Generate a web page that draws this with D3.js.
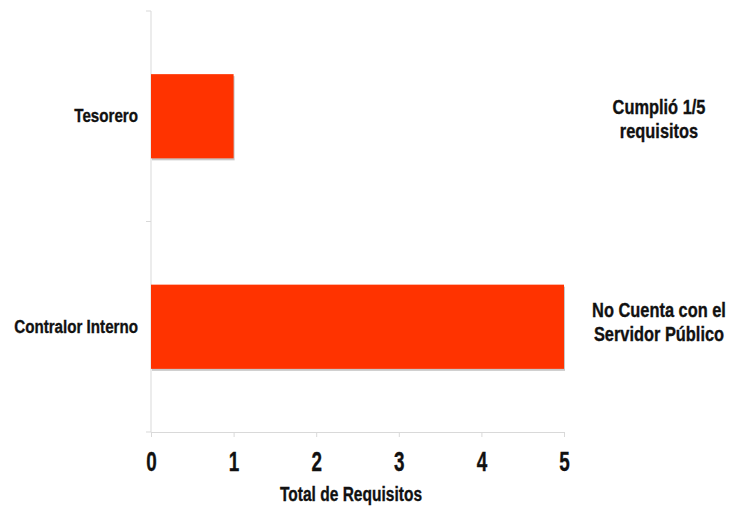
<!DOCTYPE html>
<html>
<head>
<meta charset="utf-8">
<script src="https://cdn.jsdelivr.net/npm/d3@7"></script>
<style>
  body { margin: 0; background: #fff; }
  text { font-family: "Liberation Sans", Arial, sans-serif; font-weight: bold; fill: #111; stroke: #111; stroke-width: 0.35px; }
</style>
</head>
<body>
<svg id="chart" width="734" height="507"></svg>
<script>
const categories = ["Tesorero", "Contralor Interno"];
const values = [1, 5];
const notes = [["Cumplió 1/5", "requisitos"], ["No Cuenta con el", "Servidor Público"]];
const xTicks = [0, 1, 2, 3, 4, 5];

const svg = d3.select("#chart");
const plotLeft = 151, plotRight = 564, plotTop = 11, plotBottom = 432;
const noteDy = [-9, -17]; // first line offset from bar centre
const narrow = 0.82;      // emulate a condensed face

// text with horizontal squeeze
function label(x, y, txt, size, sx, anchor) {
    return svg.append("text")
        .attr("transform", `translate(${x},${y}) scale(${sx},1)`)
        .attr("text-anchor", anchor)
        .attr("dominant-baseline", "central")
        .style("font-size", size + "px")
        .text(txt);
}

const x = d3.scaleLinear().domain([0, 5]).range([plotLeft, plotRight]);
const y = d3.scaleBand().domain(categories).range([plotTop, plotBottom]).padding(0);
const barH = y.bandwidth() * 0.4;

// x axis
const xAxis = svg.append("g")
    .attr("transform", `translate(0, ${plotBottom})`)
    .call(d3.axisBottom(x).tickValues(xTicks).tickSize(5).tickFormat(d3.format("d")));
xAxis.select(".domain").attr("stroke", "#d9d9d9");
xAxis.selectAll(".tick line").attr("stroke", "#d9d9d9");
xAxis.selectAll(".tick text")
    .attr("y", 29).attr("dy", "0.36em")
    .attr("transform", "scale(0.7,1)")
    .attr("fill", "#111")
    .style("font-size", "27px")
    .style("font-family", "'Liberation Sans', Arial, sans-serif")
    .style("font-weight", "bold");

// y axis (ticks at band boundaries)
svg.append("line")
    .attr("x1", plotLeft).attr("x2", plotLeft).attr("y1", plotTop).attr("y2", plotBottom)
    .attr("stroke", "#d9d9d9");
svg.selectAll(".ytick")
    .data([plotTop, plotTop + y.step(), plotBottom])
    .join("line")
    .attr("x1", plotLeft - 5).attr("x2", plotLeft)
    .attr("y1", d => d).attr("y2", d => d)
    .attr("stroke", "#d9d9d9");

// shadows
svg.selectAll(".shadow")
    .data(values)
    .join("rect")
    .attr("x", x(0) + 1)
    .attr("y", (d, i) => y(categories[i]) + (y.bandwidth() - barH) / 2 + 2)
    .attr("width", d => x(d) - x(0))
    .attr("height", barH)
    .attr("fill", "#c8c8c8");

// bars
svg.selectAll(".bar")
    .data(values)
    .join("rect")
    .attr("x", x(0))
    .attr("y", (d, i) => y(categories[i]) + (y.bandwidth() - barH) / 2)
    .attr("width", d => x(d) - x(0))
    .attr("height", barH)
    .attr("fill", "#ff3300");

// category labels
categories.forEach(c => label(138, y(c) + y.bandwidth() / 2, c, 18.5, narrow, "end"));

// annotations
notes.forEach((lines, i) => {
    const cy = y(categories[i]) + y.bandwidth() / 2 + noteDy[i];
    lines.forEach((t, j) => label(659, cy + j * 24, t, 20, narrow, "middle"));
});

// axis title
label(351, 494, "Total de Requisitos", 21, 0.74, "middle");
</script>
</body>
</html>
